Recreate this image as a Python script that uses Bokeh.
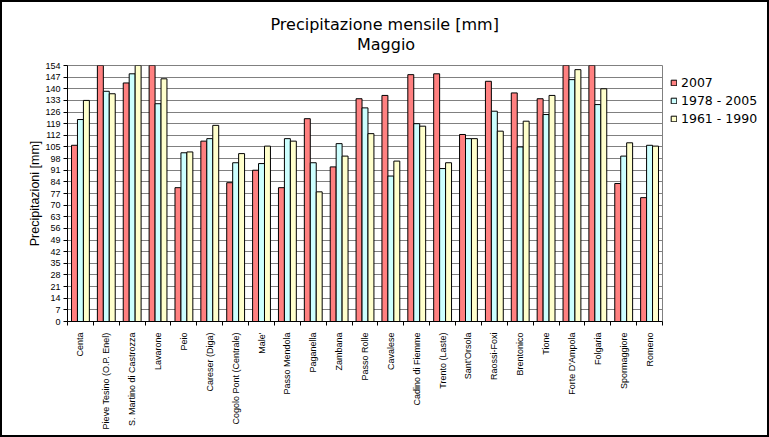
from math import pi
from bokeh.plotting import figure
from bokeh.models import (ColumnDataSource, Range1d, FixedTicker, Legend, LegendItem, Title,
                          InlineStyleSheet)
from bokeh.transform import dodge
from bokeh.embed import file_html
from bokeh.resources import INLINE

stations = ["Centa", "Pieve Tesino (O.P. Enel)", "S. Martino di Castrozza", "Lavarone", "Peio",
            "Careser (Diga)", "Cogolo Pont (Centrale)", "Male'", "Passo Mendola", "Paganella",
            "Zambana", "Passo Rolle", "Cavalese", "Cadino di Fiemme", "Trento (Laste)",
            "Sant'Orsola", "Raossi-Foxi", "Brentonico", "Tione", "Forte D'Ampola",
            "Folgaria", "Spormaggiore", "Romeno"]
v2007 = [106, 170, 143.5, 175, 80.5, 108.5, 83.5, 91, 80.5, 122, 93, 134, 136, 148.5, 149,
         112.5, 144.5, 137.5, 134, 180, 172, 83, 74.5]
v1978_2005 = [121.5, 138.5, 149, 131, 101.5, 110, 95.5, 95, 110, 95.5, 107, 128.5, 87.5, 119, 92,
              110, 126.5, 105, 124.5, 145.5, 130.5, 99.5, 106]
v1961_1990 = [133, 137, 165, 146, 102, 118, 101, 105.5, 108.5, 78, 99.5, 113, 96.5, 117.5, 95.5,
              110, 114.5, 120.5, 136, 151.5, 140, 107.5, 105.5]
series_names = ["2007", "1978 - 2005", "1961 - 1990"]
title_main = "Precipitazione mensile [mm]"
title_sub = "Maggio"
y_ticks = list(range(0, 155, 7))

n = len(stations)
xs = list(range(n))
src = ColumnDataSource(dict(x=xs, a=v2007, b=v1978_2005, c=v1961_1990))

p = figure(width=769, height=437, frame_width=595, frame_height=256,
           x_range=Range1d(-0.5, n - 0.5), y_range=Range1d(0, 154),
           output_backend="svg", toolbar_location=None, title=None,
           min_border_left=67, min_border_right=107, min_border_top=65, min_border_bottom=116)
p.background_fill_color = "white"
p.border_fill_color = "white"
p.outline_line_color = "#808080"
p.stylesheets = [InlineStyleSheet(css=(
    ":host::after { content: ''; position: absolute; left: 0; top: 0; width: 769px; "
    "height: 437px; box-sizing: border-box; border: 2px solid black; "
    "pointer-events: none; z-index: 1000; }"))]

w = 0.23
colors = ["#FF8080", "#CCFFFF", "#FFFFCC"]
rs = []
for off, key, col in zip([-w, 0, w], ["a", "b", "c"], colors):
    r = p.vbar(x=dodge("x", off, range=p.x_range), top=key, width=w, source=src,
               fill_color=col, line_color="black", line_width=1)
    rs.append(r)

# grid
p.xgrid.visible = False
p.ygrid.ticker = FixedTicker(ticks=y_ticks)
p.ygrid.grid_line_color = "#808080"

# y axis
yax = p.yaxis[0]
yax.ticker = FixedTicker(ticks=y_ticks)
yax.axis_line_color = "black"
yax.major_tick_line_color = "black"
yax.major_tick_in = 0
yax.major_tick_out = 4
yax.minor_tick_line_color = None
yax.major_label_text_font = "Liberation Sans"
yax.major_label_text_font_size = "9px"
yax.major_label_text_color = "black"
yax.major_label_standoff = 3
yax.axis_label = "Precipitazioni [mm]"
yax.axis_label_text_font = "Liberation Sans"
yax.axis_label_text_font_size = "12.5px"
yax.axis_label_text_font_style = "normal"
yax.axis_label_text_color = "black"
yax.axis_label_standoff = 0

# x axis
xax = p.xaxis[0]
xax.ticker = FixedTicker(ticks=xs, minor_ticks=[i - 0.5 for i in range(n + 1)])
xax.major_label_overrides = {i: s for i, s in enumerate(stations)}
xax.major_label_orientation = pi / 2
xax.axis_line_color = "black"
xax.major_tick_line_color = None
xax.minor_tick_line_color = "black"
xax.minor_tick_in = 0
xax.minor_tick_out = 4
xax.major_label_text_font = "Liberation Sans"
xax.major_label_text_font_size = "9px"
xax.major_label_text_color = "black"
xax.major_label_standoff = 5

# two-line title; second line indented with no-break spaces to sit centred under the first
p.add_layout(Title(text=title_main + "\n" + "\u00a0" * 17 + title_sub, align="left", offset=203,
                   vertical_align="bottom", text_font="DejaVu Sans", text_font_size="16px",
                   text_font_style="normal", text_color="black", text_line_height=1.075,
                   standoff=23), "above")

legend = Legend(items=[LegendItem(label=s, renderers=[r]) for s, r in zip(series_names, rs)],
                location="top_left", orientation="vertical")
legend.label_text_font = "DejaVu Sans"
legend.label_text_font_size = "12.5px"
legend.label_text_color = "black"
legend.glyph_width = 7
legend.glyph_height = 7
legend.label_height = 18
legend.label_standoff = 4
legend.spacing = 0
legend.margin = 8
legend.padding = 0
legend.border_line_color = None
legend.background_fill_alpha = 0
p.add_layout(legend, "right")

open("out.html", "w").write(file_html(p, INLINE))
